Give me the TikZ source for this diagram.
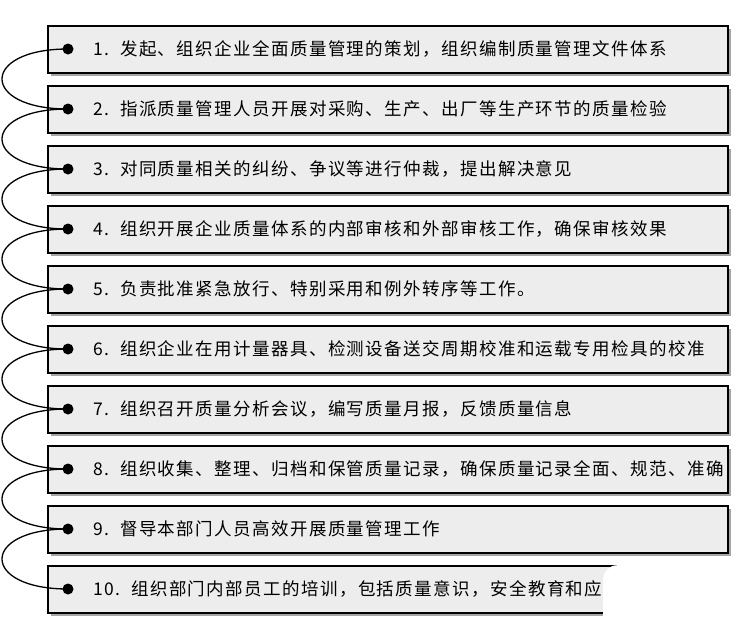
\documentclass[tikz,border=0pt]{standalone}
\usepackage{fontspec}
\newfontfamily\cjk[LetterSpace=8]{Noto Sans CJK SC}
\begin{document}
\begin{tikzpicture}[x=1pt,y=-1pt,
  itembox/.style={draw=black,line width=1.6pt,fill=gray!14,minimum width=680pt,minimum height=47pt,anchor=north west,inner sep=0pt},
  shadowbox/.style={fill=gray!70,minimum width=680pt,minimum height=47pt,anchor=north west,inner sep=0pt},
  dot/.style={circle,fill=black,inner sep=0pt,minimum size=11pt},
  label/.style={anchor=west,font=\cjk\fontsize{17.5pt}{19pt}\selectfont},
  link/.style={line width=1.3pt}]
\useasboundingbox (0,0) rectangle (744,632);
\foreach \i/\t in {1/{1.\ \ 发起、组织企业全面质量管理的策划，组织编制质量管理文件体系},
 2/{2.\ \ 指派质量管理人员开展对采购、生产、出厂等生产环节的质量检验},
 3/{3.\ \ 对同质量相关的纠纷、争议等进行仲裁，提出解决意见},
 4/{4.\ \ 组织开展企业质量体系的内部审核和外部审核工作，确保审核效果},
 5/{5.\ \ 负责批准紧急放行、特别采用和例外转序等工作。},
 6/{6.\ \ 组织企业在用计量器具、检测设备送交周期校准和运载专用检具的校准},
 7/{7.\ \ 组织召开质量分析会议，编写质量月报，反馈质量信息},
 8/{8.\ \ 组织收集、整理、归档和保管质量记录，确保质量记录全面、规范、准确},
 9/{9.\ \ 督导本部门人员高效开展质量管理工作},
 10/{10.\ \ 组织部门内部员工的培训，包括质量意识，安全教育和应知应会}} {
  \pgfmathsetmacro\yy{25+60*(\i-1)}
  \node[shadowbox] (s\i) at (51,\yy+4) {};
  \node[itembox] (b\i) at (47,\yy) {};
  \node[dot] (d\i) at (68,\yy+24) {};
  \node[label] (t\i) at (90,\yy+24) {\t};
}
\foreach \i [evaluate=\i as \j using int(\i+1)] in {1,...,9} {
  \draw[link] (d\i.center) .. controls ++(-88,0) and ++(-88,0) .. (d\j.center);
}
\node[fill=white,rounded corners=14pt,minimum width=150pt,minimum height=72pt,anchor=north west,inner sep=0pt] (mask) at (603,565) {};
\end{tikzpicture}
\end{document}
